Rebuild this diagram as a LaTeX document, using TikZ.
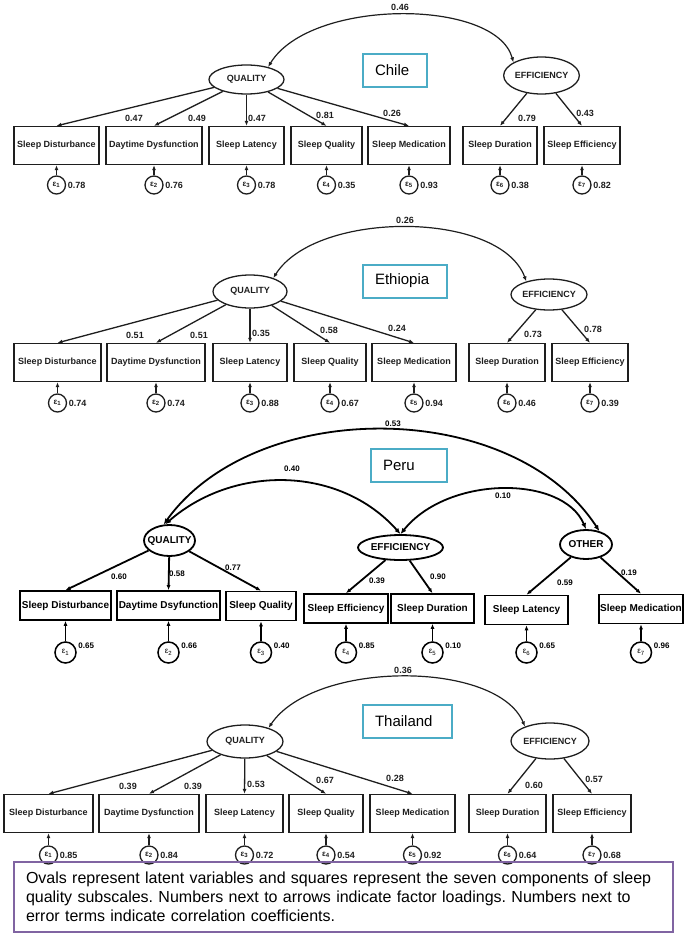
\documentclass[tikz,border=0pt]{standalone}
\usepackage{fontspec}
\setmainfont{Liberation Sans}
\usetikzlibrary{shapes.geometric,arrows.meta}
\definecolor{ink}{RGB}{30,30,30}
\definecolor{aqua}{RGB}{75,172,198}
\definecolor{lilac}{RGB}{128,100,162}
\frenchspacing

\begin{document}
\begin{tikzpicture}[x=1pt, y=-1pt,
  latent/.style={draw=ink, ellipse, line width=1.3pt, inner sep=0pt, text=ink, font=\fontsize{9}{9}\selectfont\bfseries},
  obs/.style={draw=ink, rectangle, line width=1.3pt, inner sep=0pt, minimum height=38pt, text=ink, font=\fontsize{9}{9}\selectfont\bfseries},
  err/.style={draw=ink, circle, line width=1.3pt, inner sep=0pt, minimum size=18pt, text=ink, font=\fontsize{8}{8}\selectfont\bfseries},
  num/.style={inner sep=0pt, text=ink, font=\fontsize{9}{9}\selectfont\bfseries},
  ld/.style={draw=ink, line width=1.3pt, -{Latex[length=5pt,width=4pt]}},
  cov/.style={draw=ink, line width=1.2pt, {Latex[length=5pt,width=4pt]}-{Latex[length=5pt,width=4pt]}},
  platent/.style={draw, ellipse, line width=1.8pt, inner sep=0pt, font=\fontsize{10}{10}\selectfont\bfseries},
  pobs/.style={draw, rectangle, line width=1.6pt, inner sep=0pt, minimum height=29pt, font=\fontsize{10}{10}\selectfont\bfseries},
  perr/.style={draw, circle, line width=1.5pt, inner sep=0pt, minimum size=21pt, font=\fontsize{8}{8}\selectfont},
  pnum/.style={inner sep=0pt, font=\fontsize{8}{8}\selectfont\bfseries},
  pld/.style={draw, line width=1.8pt, -{Latex[length=5pt,width=4pt]}},
  pcov/.style={draw, line width=1.8pt, {Latex[length=6pt,width=5pt]}-{Latex[length=6pt,width=5pt]}},
  tag/.style={draw=aqua, line width=2pt, minimum height=33pt, inner xsep=12pt, align=left, font=\fontsize{15}{15}\selectfont},
  note/.style={draw=lilac, line width=2pt, inner xsep=12pt, inner ysep=6pt, minimum height=70pt, align=left, font=\fontsize{16}{19}\selectfont}]
  \useasboundingbox (0,0) rectangle (687,939);

  % Chile
  \node[latent, minimum width=75pt, minimum height=29pt] (chq) at (246.5,79.5) {QUALITY};
  \node[latent, minimum width=75pt, minimum height=37pt] (che) at (541.5,75.5) {EFFICIENCY};
  \node[tag, text width=40pt] (chtag) at (395,70.5) {Chile};
  \foreach \i/\x/\w/\txt/\e/\lx/\ly/\v in {1/56.5/85/Sleep Disturbance/0.78/134/118/0.47,
      2/154/96/Daytime Dysfunction/0.76/197/118/0.49, 3/246.5/75/Sleep Latency/0.78/257/118/0.47,
      4/326.5/71/Sleep Quality/0.35/325/115/0.81, 5/409/82/Sleep Medication/0.93/392/113/0.26,
      6/500/74/Sleep Duration/0.38/527/118/0.79, 7/582/76/Sleep Efficiency/0.82/585/113/0.43}{
    \node[obs, minimum width=\w pt] (ch\i) at (\x,145.5) {\txt};
    \node[err, label={[num,label distance=1.5pt]right:\e}] (chu\i) at (\x,185) {ε\textsubscript{\i}};
    \node[num] (chl\i) at (\lx,\ly) {\v};
    \draw[ld] (chu\i) -- (ch\i);
  }
  \foreach \i in {1,...,5} \draw[ld] (chq) -- (ch\i.north);
  \foreach \i in {6,7} \draw[ld] (che) -- (ch\i.north);
  \draw[cov] (chq.30) .. controls (310,-2) and (496,-2) .. (che.155);
  \node[num] (chr) at (400,7) {0.46};

  % Ethiopia
  \node[latent, minimum width=74pt, minimum height=33pt] (etq) at (250,291.5) {QUALITY};
  \node[latent, minimum width=76pt, minimum height=31pt] (ete) at (549,294.5) {EFFICIENCY};
  \node[tag, text width=60pt] (ettag) at (405,281) {Ethiopia};
  \foreach \i/\x/\w/\txt/\e/\lx/\ly/\v in {1/57.5/87/Sleep Disturbance/0.74/135/335/0.51,
      2/156/98/Daytime Dysfunction/0.74/199/335/0.51, 3/250/74/Sleep Latency/0.88/261/333/0.35,
      4/330/72/Sleep Quality/0.67/329/330/0.58, 5/414/84/Sleep Medication/0.94/397/328/0.24,
      6/507/76/Sleep Duration/0.46/533/334/0.73, 7/590/76/Sleep Efficiency/0.39/593/329/0.78}{
    \node[obs, minimum width=\w pt] (et\i) at (\x,362.5) {\txt};
    \node[err, label={[num,label distance=1.5pt]right:\e}] (etu\i) at (\x,403) {ε\textsubscript{\i}};
    \node[num] (etl\i) at (\lx,\ly) {\v};
    \draw[ld] (etu\i) -- (et\i);
  }
  \foreach \i in {1,...,5} \draw[ld] (etq) -- (et\i.north);
  \foreach \i in {6,7} \draw[ld] (ete) -- (et\i.north);
  \draw[cov] (etq.30) .. controls (316,210) and (500,210) .. (ete.150);
  \node[num] (etr) at (405,220) {0.26};

  % Peru
  \node[platent, minimum width=51pt, minimum height=31pt, inner xsep=-5pt] (peq) at (169.5,540.5) {QUALITY};
  \node[platent, minimum width=85pt, minimum height=25pt] (pee) at (400.5,547.5) {EFFICIENCY};
  \node[platent, minimum width=52pt, minimum height=29pt] (peo) at (586,544.5) {OTHER};
  \node[tag, text width=52pt] (petag) at (409,465.5) {Peru};
  \foreach \i/\x/\yy/\w/\txt/\e/\lx/\ly/\v in {1/65.5/605.5/91/Sleep Disturbance/0.65/119/577/0.60,
      2/168.5/605.5/103/Daytime Dsyfunction/0.66/177/574/0.58, 3/261/606/70/Sleep Quality/0.40/233/568/0.77,
      4/346/608.5/84/Sleep Efficiency/0.85/377/581/0.39, 5/432.5/608.5/83/Sleep Duration/0.10/438/577/0.90,
      6/526.5/610/83/Sleep Latency/0.65/565/583/0.59, 7/641/609/84/Sleep Medication/0.96/629/573/0.19}{
    \node[pobs, minimum width=\w pt] (pe\i) at (\x,\yy) {\txt};
    \node[perr, label={[pnum,label distance=1.5pt,yshift=7pt]right:\e}] (peu\i) at (\x,652.5) {ε\textsubscript{\i}};
    \node[pnum] (pel\i) at (\lx,\ly) {\v};
    \draw[pld] (peu\i) -- (pe\i);
  }
  \foreach \i in {1,2,3} \draw[pld] (peq) -- (pe\i.north);
  \foreach \i in {4,5} \draw[pld] (pee) -- (pe\i.north);
  \foreach \i in {6,7} \draw[pld] (peo) -- (pe\i.north);
  \draw[pcov] (peq.110) .. controls (255,397) and (512,397) .. (peo.45);
  \draw[pcov] (peq.105) .. controls (233,465) and (339,465) .. (pee.north);
  \draw[pcov] (pee.north) .. controls (448,475) and (563,475) .. (peo.north);
  \node[pnum] (per1) at (393,424) {0.53};
  \node[pnum] (per2) at (292,469) {0.40};
  \node[pnum] (per3) at (503,496) {0.10};

  % Thailand
  \node[latent, minimum width=76pt, minimum height=33pt] (thq) at (245,741.5) {QUALITY};
  \node[latent, minimum width=78pt, minimum height=36pt] (the) at (550,741) {EFFICIENCY};
  \node[tag, text width=65pt] (thtag) at (407.5,721.5) {Thailand};
  \foreach \i/\x/\w/\txt/\e/\lx/\ly/\v in {1/48.5/89/Sleep Disturbance/0.85/128/786/0.39,
      2/149/100/Daytime Dysfunction/0.84/193/786/0.39, 3/244.5/77/Sleep Latency/0.72/256/784/0.53,
      4/326/74/Sleep Quality/0.54/325/780/0.67, 5/412.5/85/Sleep Medication/0.92/395/778/0.28,
      6/507.5/77/Sleep Duration/0.64/534/785/0.60, 7/592/78/Sleep Efficiency/0.68/594/779/0.57}{
    \node[obs, minimum width=\w pt] (th\i) at (\x,813.5) {\txt};
    \node[err, label={[num,label distance=1.5pt]right:\e}] (thu\i) at (\x,855) {ε\textsubscript{\i}};
    \node[num] (thl\i) at (\lx,\ly) {\v};
    \draw[ld] (thu\i) -- (th\i);
  }
  \foreach \i in {1,...,5} \draw[ld] (thq) -- (th\i.north);
  \foreach \i in {6,7} \draw[ld] (the) -- (th\i.north);
  \draw[cov] (thq.30) .. controls (314,660) and (497,660) .. (the.150);
  \node[num] (thr) at (403,670) {0.36};

  \node[note, text width=635pt] (key) at (343.5,897) {Ovals represent latent variables and squares represent the seven components of sleep\\
    quality subscales. Numbers next to arrows indicate factor loadings. Numbers next to\\
    error terms indicate correlation coefficients.};
\end{tikzpicture}
\end{document}
